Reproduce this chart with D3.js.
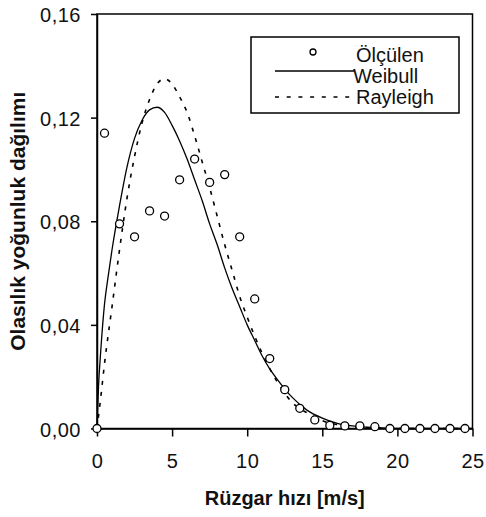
<!DOCTYPE html>
<html>
<head>
<meta charset="utf-8">
<script src="https://cdn.jsdelivr.net/npm/d3@7"></script>
<style>
  body { margin: 0; background: #fff; }
  text { font-family: "Liberation Sans", Arial, sans-serif; fill: #111; }
  .tick-label { font-size: 20px; letter-spacing: 0.5px; }
  .axis-title { font-size: 20px; font-weight: bold; }
  .y-title { font-size: 21px; }
  .legend-label { font-size: 20px; }
</style>
</head>
<body>
<div id="svg-container"></div>
<script>
// data
const measuredX = [0, 0.5, 1.5, 2.5, 3.5, 4.5, 5.5, 6.5, 7.5, 8.5, 9.5, 10.5, 11.5, 12.5,
  13.5, 14.5, 15.5, 16.5, 17.5, 18.5, 19.5, 20.5, 21.5, 22.5, 23.5, 24.5];
const measuredY = [0, 0.114, 0.079, 0.074, 0.084, 0.082, 0.096, 0.104, 0.095, 0.098, 0.074,
  0.050, 0.027, 0.015, 0.0078, 0.0033, 0.0012, 0.001, 0.001, 0.0007, 0, 0, 0, 0, 0, 0];

const weibullX = [0, 0.1, 0.25, 0.5, 0.75, 1, 1.5, 2, 2.5, 3, 3.5, 4, 4.5, 5, 5.5, 6, 6.5,
  7, 7.5, 8, 8.5, 9, 9.5, 10, 10.5, 11, 11.5, 12, 13, 14, 15, 16, 17, 18, 19, 20, 25];
const weibullY = [0, 0.016, 0.030, 0.048, 0.059, 0.069, 0.086, 0.101, 0.112, 0.119, 0.123,
  0.124, 0.122, 0.117, 0.111, 0.104, 0.096, 0.088, 0.079, 0.071, 0.062, 0.054, 0.047, 0.040,
  0.034, 0.028, 0.023, 0.019, 0.012, 0.007, 0.004, 0.002, 0.001, 0.0005, 0.0002, 0, 0];

const rayleighX = [0, 0.25, 0.5, 1, 1.5, 2, 2.5, 3, 3.5, 4, 4.5, 5, 5.5, 6, 6.5, 7, 7.5, 8,
  8.5, 9, 9.5, 10, 11, 12, 13, 14, 15, 16, 17, 18, 19, 20, 25];
const rayleighY = [0, 0.012, 0.025, 0.047, 0.069, 0.089, 0.105, 0.118, 0.127, 0.133, 0.135,
  0.133, 0.128, 0.122, 0.113, 0.103, 0.093, 0.082, 0.071, 0.061, 0.051, 0.043, 0.029, 0.018,
  0.010, 0.006, 0.003, 0.0015, 0.0007, 0.0003, 0.0001, 0, 0];

const xTicks = [0, 5, 10, 15, 20, 25];
const yTicks = [0, 0.04, 0.08, 0.12, 0.16];
const legendLabels = ["Ölçülen", "Weibull", "Rayleigh"];

////////////////////////////  Init  ///////////////////////////////
const width = 486;
const height = 517;
const margin = { top: 14, right: 13.5, bottom: 88.5, left: 97 };

const svg = d3.select("#svg-container").append("svg")
  .attr("width", width)
  .attr("height", height);

const xScale = d3.scaleLinear()
  .domain([0, 25])
  .range([margin.left, width - margin.right]);

const yScale = d3.scaleLinear()
  .domain([0, 0.16])
  .range([height - margin.bottom, margin.top]);

const fmtComma = (d) => d3.format(".2f")(d).replace(".", ",");

// frame
svg.append("rect")
  .attr("x", xScale(0))
  .attr("y", yScale(0.16))
  .attr("width", xScale(25) - xScale(0))
  .attr("height", yScale(0) - yScale(0.16))
  .attr("fill", "none")
  .attr("stroke", "#000")
  .attr("stroke-width", 1.5);

// axes
const xAxis = d3.axisBottom(xScale).tickValues(xTicks).tickSize(8).tickSizeOuter(0)
  .tickFormat(d3.format("d"));
const gx = svg.append("g")
  .attr("transform", `translate(0, ${yScale(0)})`)
  .call(xAxis);
gx.select(".domain").attr("stroke", "#000").attr("stroke-width", 1.5);
gx.selectAll(".tick line").attr("stroke", "#000").attr("stroke-width", 1.5);
gx.selectAll(".tick text")
  .attr("class", "tick-label")
  .attr("font-size", null)
  .attr("font-family", null)
  .attr("y", 25)
  .attr("dy", "0.71em");

const yAxis = d3.axisLeft(yScale).tickValues(yTicks).tickSize(6).tickSizeOuter(0)
  .tickFormat(fmtComma);
const gy = svg.append("g")
  .attr("transform", `translate(${xScale(0)}, 0)`)
  .call(yAxis);
gy.select(".domain").attr("stroke", "#000").attr("stroke-width", 1.5);
gy.selectAll(".tick line").attr("stroke", "#000").attr("stroke-width", 1.5);
gy.selectAll(".tick text")
  .attr("class", "tick-label")
  .attr("font-size", null)
  .attr("font-family", null)
  .attr("x", -16)
  .attr("dy", "0.38em");

// axis titles
svg.append("text")
  .attr("class", "axis-title")
  .attr("x", (xScale(0) + xScale(25)) / 2)
  .attr("y", 505)
  .attr("text-anchor", "middle")
  .text("Rüzgar hızı [m/s]");

svg.append("text")
  .attr("class", "axis-title y-title")
  .attr("transform", `translate(25, ${(yScale(0) + yScale(0.16)) / 2}) rotate(-90)`)
  .attr("text-anchor", "middle")
  .text("Olasılık yoğunluk dağılımı");

// curves
const line = d3.line()
  .x((d) => xScale(d[0]))
  .y((d) => yScale(d[1]))
  .curve(d3.curveMonotoneX);

const weibullData = weibullX.map((x, i) => [x, weibullY[i]]);
const rayleighData = rayleighX.map((x, i) => [x, rayleighY[i]]);
const measuredData = measuredX.map((x, i) => [x, measuredY[i]]);

svg.append("path")
  .datum(weibullData)
  .attr("d", line)
  .attr("fill", "none")
  .attr("stroke", "#000")
  .attr("stroke-width", 1.3);

svg.append("path")
  .datum(rayleighData)
  .attr("d", line)
  .attr("fill", "none")
  .attr("stroke", "#000")
  .attr("stroke-width", 1.6)
  .attr("stroke-dasharray", "4,7");

// measured points
svg.selectAll(".measured")
  .data(measuredData)
  .enter()
  .append("circle")
  .attr("class", "measured")
  .attr("cx", (d) => xScale(d[0]))
  .attr("cy", (d) => yScale(d[1]))
  .attr("r", 4)
  .attr("fill", "#fff")
  .attr("stroke", "#000")
  .attr("stroke-width", 1.3);

// legend
const legend = svg.append("g");
legend.append("rect")
  .attr("x", 251)
  .attr("y", 37)
  .attr("width", 208)
  .attr("height", 76)
  .attr("fill", "#fff")
  .attr("stroke", "#000")
  .attr("stroke-width", 1.5);

legend.append("circle")
  .attr("cx", 313)
  .attr("cy", 52)
  .attr("r", 3)
  .attr("fill", "#fff")
  .attr("stroke", "#000")
  .attr("stroke-width", 1.3);

legend.append("line")
  .attr("x1", 275).attr("x2", 354)
  .attr("y1", 71).attr("y2", 71)
  .attr("stroke", "#000").attr("stroke-width", 1.3);

legend.append("line")
  .attr("x1", 275).attr("x2", 354)
  .attr("y1", 97).attr("y2", 97)
  .attr("stroke", "#000").attr("stroke-width", 1.6)
  .attr("stroke-dasharray", "4,7.7");

legend.selectAll(".legend-label")
  .data(legendLabels)
  .enter()
  .append("text")
  .attr("class", "legend-label")
  .attr("x", (d, i) => (i === 1 ? 353 : 356))
  .attr("y", (d, i) => 62 + i * 21)
  .text((d) => d);
</script>
</body>
</html>
